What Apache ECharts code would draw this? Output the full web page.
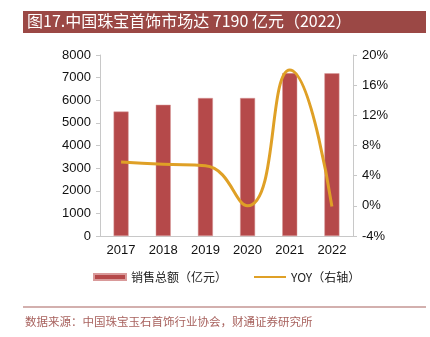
<!DOCTYPE html>
<html><head><meta charset="utf-8">
<script src="https://cdn.jsdelivr.net/npm/echarts@6/dist/echarts.min.js"></script>
<style>html,body{margin:0;padding:0;background:#fff}#c{width:430px;height:337px}</style>
</head><body><div id="c"></div>
<script>
var categories = ['2017','2018','2019','2020','2021','2022'];
var salesValues = [5500, 5800, 6100, 6100, 7200, 7190];
var yoyValues = [5.8, 5.5, 5.3, 0.0, 18.0, -0.1];
var leftTicks = {min: 0, max: 8000, interval: 1000};
var rightTicks = {min: -4, max: 20, interval: 4};
var titleText = '图17.中国珠宝首饰市场达 7190 亿元（2022）';
var sourceText = '数据来源：中国珠宝玉石首饰行业协会，财通证券研究所';

var chart = echarts.init(document.getElementById('c'), null, {renderer: 'canvas'});
var font = 'Liberation Sans, Arial, sans-serif';
var cjk = '"Noto Sans CJK SC", sans-serif';
chart.setOption({
  animation: false,
  graphic: [
    {type: 'rect', shape: {x: 23, y: 11, width: 403, height: 22}, style: {fill: '#9b4845'}},
    {type: 'text', left: 27, top: 13, style: {text: titleText, fill: '#fff', font: '16px ' + cjk}},
    {type: 'rect', shape: {x: 23, y: 306.5, width: 403, height: 1}, style: {fill: '#a8625e'}},
    {type: 'text', left: 25, top: 316, style: {text: sourceText, fill: '#a8625e', font: '11.5px ' + cjk}}
  ],
  grid: {left: 100, right: 77, top: 55, bottom: 101, containLabel: false},
  legend: {
    bottom: 49, left: 88, itemGap: 26, itemWidth: 32, itemHeight: 6,
    textStyle: {fontFamily: cjk, fontSize: 12, color: '#222'},
    data: [
      {name: '销售总额（亿元）', icon: 'rect'},
      {name: 'YOY（右轴）', lineStyle: {width: 2}, itemStyle: {opacity: 0}}
    ]
  },
  xAxis: {
    type: 'category', data: categories,
    axisLine: {lineStyle: {color: '#c8c8c8', width: 1}},
    axisTick: {show: false},
    axisLabel: {color: '#111', fontFamily: font, fontSize: 13, margin: 8}
  },
  yAxis: [
    {type: 'value', min: leftTicks.min, max: leftTicks.max, interval: leftTicks.interval,
     axisLine: {show: true, lineStyle: {color: '#c8c8c8'}},
     axisTick: {show: true, length: 4, lineStyle: {color: '#c8c8c8'}},
     splitLine: {show: false},
     axisLabel: {color: '#111', fontFamily: font, fontSize: 13, margin: 9, formatter: function (v) { return String(v); }}},
    {type: 'value', min: rightTicks.min, max: rightTicks.max, interval: rightTicks.interval,
     axisLine: {show: true, lineStyle: {color: '#c8c8c8'}},
     axisTick: {show: true, length: 4, lineStyle: {color: '#c8c8c8'}},
     splitLine: {show: false},
     axisLabel: {color: '#111', fontFamily: font, fontSize: 13, margin: 9, formatter: '{value}%'}}
  ],
  series: [
    {name: '销售总额（亿元）', type: 'bar', data: salesValues, barWidth: 15,
     itemStyle: {color: '#b5494a', borderColor: '#d99a9a', borderWidth: 0.5}},
    {name: 'YOY（右轴）', type: 'line', yAxisIndex: 1, data: yoyValues, smooth: 0.5,
     symbol: 'none', lineStyle: {color: '#dfa026', width: 3}, itemStyle: {color: '#dfa026'}}
  ]
});
</script></body></html>
